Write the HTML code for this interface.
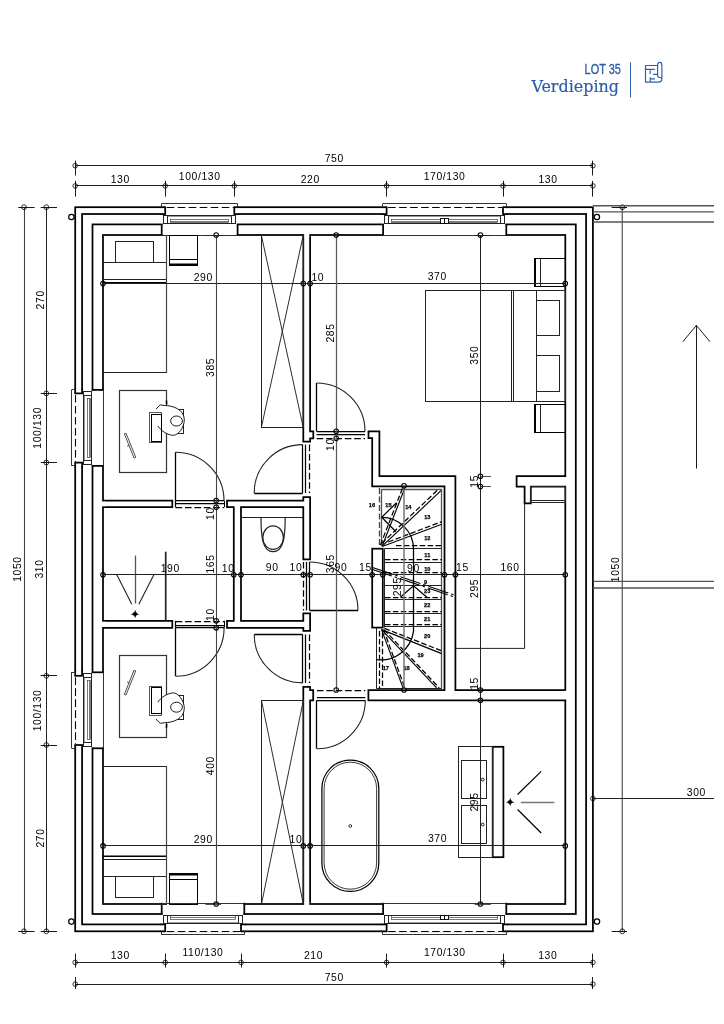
<!DOCTYPE html>
<html lang="nl"><head><meta charset="utf-8"><title>LOT 35 - Verdieping</title>
<style>html,body{margin:0;padding:0;background:#fff}body{width:724px;height:1024px;overflow:hidden}svg{display:block;will-change:transform}</style>
</head><body>
<svg width="724" height="1024" viewBox="0 0 724 1024" font-family="'Liberation Sans',Arial,sans-serif">
<rect x="75.2" y="207.2" width="517.7" height="724.1" fill="none" stroke="#000" stroke-width="1.75"/>
<rect x="82.1" y="214" width="504" height="710.4" fill="none" stroke="#000" stroke-width="1.75"/>
<rect x="92.5" y="224.4" width="483.3" height="689.6" fill="none" stroke="#000" stroke-width="1.75"/>
<rect x="103" y="235" width="462.3" height="669" fill="none" stroke="#000" stroke-width="1.75"/>
<rect x="162.45" y="206" width="74.4" height="30.2" fill="#fff"/>
<rect x="160.9" y="206" width="1.6" height="17.65" fill="#fff"/>
<rect x="236.8" y="206" width="1.6" height="17.65" fill="#fff"/>
<line x1="160.2" y1="207.2" x2="165.2" y2="207.2" stroke="#000" stroke-width="1.75"/>
<line x1="160.2" y1="214.1" x2="165.2" y2="214.1" stroke="#000" stroke-width="1.75"/>
<line x1="165.2" y1="206.45" x2="165.2" y2="214.85" stroke="#000" stroke-width="1.75"/>
<line x1="234.3" y1="207.2" x2="239.1" y2="207.2" stroke="#000" stroke-width="1.75"/>
<line x1="234.3" y1="214.1" x2="239.1" y2="214.1" stroke="#000" stroke-width="1.75"/>
<line x1="234.3" y1="206.45" x2="234.3" y2="214.85" stroke="#000" stroke-width="1.75"/>
<line x1="161.7" y1="223.65" x2="161.7" y2="235.75" stroke="#000" stroke-width="1.75"/>
<line x1="237.6" y1="223.65" x2="237.6" y2="235.75" stroke="#000" stroke-width="1.75"/>
<line x1="161.7" y1="235.5" x2="237.6" y2="235.5" stroke="#333" stroke-width="1"/>
<line x1="161.5" y1="203.5" x2="237.6" y2="203.5" stroke="#333" stroke-width="1"/>
<line x1="161.5" y1="203.7" x2="161.5" y2="207.4" stroke="#333" stroke-width="1"/>
<line x1="237.5" y1="203.7" x2="237.5" y2="207.4" stroke="#333" stroke-width="1"/>
<line x1="166.7" y1="207.5" x2="233.8" y2="207.5" stroke="#000" stroke-width="1.1" stroke-dasharray="7.6 3.4"/>
<rect x="163.5" y="215.5" width="72" height="8" fill="none" stroke="#222" stroke-width="1"/>
<rect x="163.5" y="215.5" width="4" height="8" fill="none" stroke="#222" stroke-width="1"/>
<rect x="231.5" y="215.5" width="4" height="8" fill="none" stroke="#222" stroke-width="1"/>
<line x1="167" y1="216.5" x2="231.9" y2="216.5" stroke="#555" stroke-width="0.6"/>
<rect x="170.5" y="219.5" width="58" height="3" fill="none" stroke="#222" stroke-width="0.6"/>
<line x1="170.2" y1="221.5" x2="228.8" y2="221.5" stroke="#222" stroke-width="0.6"/>
<rect x="383.85" y="206" width="121.7" height="30.2" fill="#fff"/>
<rect x="382.3" y="206" width="1.6" height="17.65" fill="#fff"/>
<rect x="505.5" y="206" width="1.6" height="17.65" fill="#fff"/>
<line x1="381.6" y1="207.2" x2="386.6" y2="207.2" stroke="#000" stroke-width="1.75"/>
<line x1="381.6" y1="214.1" x2="386.6" y2="214.1" stroke="#000" stroke-width="1.75"/>
<line x1="386.6" y1="206.45" x2="386.6" y2="214.85" stroke="#000" stroke-width="1.75"/>
<line x1="503" y1="207.2" x2="507.8" y2="207.2" stroke="#000" stroke-width="1.75"/>
<line x1="503" y1="214.1" x2="507.8" y2="214.1" stroke="#000" stroke-width="1.75"/>
<line x1="503" y1="206.45" x2="503" y2="214.85" stroke="#000" stroke-width="1.75"/>
<line x1="383.1" y1="223.65" x2="383.1" y2="235.75" stroke="#000" stroke-width="1.75"/>
<line x1="506.3" y1="223.65" x2="506.3" y2="235.75" stroke="#000" stroke-width="1.75"/>
<line x1="383.1" y1="235.5" x2="506.3" y2="235.5" stroke="#333" stroke-width="1"/>
<line x1="382.9" y1="203.5" x2="506.3" y2="203.5" stroke="#333" stroke-width="1"/>
<line x1="382.5" y1="203.7" x2="382.5" y2="207.4" stroke="#333" stroke-width="1"/>
<line x1="506.5" y1="203.7" x2="506.5" y2="207.4" stroke="#333" stroke-width="1"/>
<line x1="388.1" y1="207.5" x2="502.5" y2="207.5" stroke="#000" stroke-width="1.1" stroke-dasharray="7.6 3.4"/>
<rect x="384.5" y="215.5" width="120" height="8" fill="none" stroke="#222" stroke-width="1"/>
<rect x="384.5" y="215.5" width="4" height="8" fill="none" stroke="#222" stroke-width="1"/>
<rect x="500.5" y="215.5" width="4" height="8" fill="none" stroke="#222" stroke-width="1"/>
<line x1="388.4" y1="216.5" x2="500.6" y2="216.5" stroke="#555" stroke-width="0.6"/>
<rect x="391.5" y="219.5" width="106" height="3" fill="none" stroke="#222" stroke-width="0.6"/>
<line x1="391.6" y1="221.5" x2="497.5" y2="221.5" stroke="#222" stroke-width="0.6"/>
<rect x="440.5" y="218.5" width="4" height="5" fill="#fff" stroke="#000" stroke-width="0.9"/>
<rect x="444.5" y="218.5" width="4" height="5" fill="#fff" stroke="#000" stroke-width="0.9"/>
<rect x="162.45" y="902.3" width="81.1" height="30.2" fill="#fff"/>
<rect x="160.9" y="914.85" width="1.6" height="17.65" fill="#fff"/>
<rect x="243.5" y="914.85" width="1.6" height="17.65" fill="#fff"/>
<line x1="160.2" y1="931.3" x2="165.2" y2="931.3" stroke="#000" stroke-width="1.75"/>
<line x1="160.2" y1="924.4" x2="165.2" y2="924.4" stroke="#000" stroke-width="1.75"/>
<line x1="165.2" y1="932.05" x2="165.2" y2="923.65" stroke="#000" stroke-width="1.75"/>
<line x1="241" y1="931.3" x2="245.8" y2="931.3" stroke="#000" stroke-width="1.75"/>
<line x1="241" y1="924.4" x2="245.8" y2="924.4" stroke="#000" stroke-width="1.75"/>
<line x1="241" y1="932.05" x2="241" y2="923.65" stroke="#000" stroke-width="1.75"/>
<line x1="161.7" y1="914.85" x2="161.7" y2="902.75" stroke="#000" stroke-width="1.75"/>
<line x1="244.3" y1="914.85" x2="244.3" y2="902.75" stroke="#000" stroke-width="1.75"/>
<line x1="161.7" y1="903.5" x2="244.3" y2="903.5" stroke="#333" stroke-width="1"/>
<line x1="161.5" y1="934.5" x2="244.3" y2="934.5" stroke="#333" stroke-width="1"/>
<line x1="161.5" y1="934.8" x2="161.5" y2="931.1" stroke="#333" stroke-width="1"/>
<line x1="244.5" y1="934.8" x2="244.5" y2="931.1" stroke="#333" stroke-width="1"/>
<line x1="166.7" y1="931.5" x2="240.5" y2="931.5" stroke="#000" stroke-width="1.1" stroke-dasharray="7.6 3.4"/>
<rect x="163.5" y="915.5" width="79" height="8" fill="none" stroke="#222" stroke-width="1"/>
<rect x="163.5" y="915.5" width="4" height="8" fill="none" stroke="#222" stroke-width="1"/>
<rect x="238.5" y="915.5" width="4" height="8" fill="none" stroke="#222" stroke-width="1"/>
<line x1="167" y1="922.5" x2="238.6" y2="922.5" stroke="#555" stroke-width="0.6"/>
<rect x="170.5" y="915.5" width="65" height="4" fill="none" stroke="#222" stroke-width="0.6"/>
<line x1="170.2" y1="917.5" x2="235.5" y2="917.5" stroke="#222" stroke-width="0.6"/>
<rect x="383.85" y="902.3" width="121.7" height="30.2" fill="#fff"/>
<rect x="382.3" y="914.85" width="1.6" height="17.65" fill="#fff"/>
<rect x="505.5" y="914.85" width="1.6" height="17.65" fill="#fff"/>
<line x1="381.6" y1="931.3" x2="386.6" y2="931.3" stroke="#000" stroke-width="1.75"/>
<line x1="381.6" y1="924.4" x2="386.6" y2="924.4" stroke="#000" stroke-width="1.75"/>
<line x1="386.6" y1="932.05" x2="386.6" y2="923.65" stroke="#000" stroke-width="1.75"/>
<line x1="503" y1="931.3" x2="507.8" y2="931.3" stroke="#000" stroke-width="1.75"/>
<line x1="503" y1="924.4" x2="507.8" y2="924.4" stroke="#000" stroke-width="1.75"/>
<line x1="503" y1="932.05" x2="503" y2="923.65" stroke="#000" stroke-width="1.75"/>
<line x1="383.1" y1="914.85" x2="383.1" y2="902.75" stroke="#000" stroke-width="1.75"/>
<line x1="506.3" y1="914.85" x2="506.3" y2="902.75" stroke="#000" stroke-width="1.75"/>
<line x1="383.1" y1="903.5" x2="506.3" y2="903.5" stroke="#333" stroke-width="1"/>
<line x1="382.9" y1="934.5" x2="506.3" y2="934.5" stroke="#333" stroke-width="1"/>
<line x1="382.5" y1="934.8" x2="382.5" y2="931.1" stroke="#333" stroke-width="1"/>
<line x1="506.5" y1="934.8" x2="506.5" y2="931.1" stroke="#333" stroke-width="1"/>
<line x1="388.1" y1="931.5" x2="502.5" y2="931.5" stroke="#000" stroke-width="1.1" stroke-dasharray="7.6 3.4"/>
<rect x="384.5" y="915.5" width="120" height="8" fill="none" stroke="#222" stroke-width="1"/>
<rect x="384.5" y="915.5" width="4" height="8" fill="none" stroke="#222" stroke-width="1"/>
<rect x="500.5" y="915.5" width="4" height="8" fill="none" stroke="#222" stroke-width="1"/>
<line x1="388.4" y1="922.5" x2="500.6" y2="922.5" stroke="#555" stroke-width="0.6"/>
<rect x="391.5" y="915.5" width="106" height="4" fill="none" stroke="#222" stroke-width="0.6"/>
<line x1="391.6" y1="917.5" x2="497.5" y2="917.5" stroke="#222" stroke-width="0.6"/>
<rect x="440.5" y="915.5" width="4" height="4" fill="#fff" stroke="#000" stroke-width="0.9"/>
<rect x="444.5" y="915.5" width="4" height="4" fill="#fff" stroke="#000" stroke-width="0.9"/>
<rect x="74" y="390.65" width="30.2" height="74.5" fill="#fff"/>
<rect x="74" y="389.1" width="17.65" height="1.6" fill="#fff"/>
<rect x="74" y="465.1" width="17.65" height="1.6" fill="#fff"/>
<line x1="75.2" y1="388.4" x2="75.2" y2="393.4" stroke="#000" stroke-width="1.75"/>
<line x1="82.1" y1="388.4" x2="82.1" y2="393.4" stroke="#000" stroke-width="1.75"/>
<line x1="74.45" y1="393.4" x2="82.85" y2="393.4" stroke="#000" stroke-width="1.75"/>
<line x1="75.2" y1="462.6" x2="75.2" y2="467.4" stroke="#000" stroke-width="1.75"/>
<line x1="82.1" y1="462.6" x2="82.1" y2="467.4" stroke="#000" stroke-width="1.75"/>
<line x1="74.45" y1="462.6" x2="82.85" y2="462.6" stroke="#000" stroke-width="1.75"/>
<line x1="91.65" y1="389.9" x2="103.75" y2="389.9" stroke="#000" stroke-width="1.75"/>
<line x1="91.65" y1="465.9" x2="103.75" y2="465.9" stroke="#000" stroke-width="1.75"/>
<line x1="103.5" y1="389.9" x2="103.5" y2="465.9" stroke="#333" stroke-width="1"/>
<line x1="71.5" y1="389.7" x2="71.5" y2="465.9" stroke="#333" stroke-width="1"/>
<line x1="71.7" y1="389.5" x2="75.4" y2="389.5" stroke="#333" stroke-width="1"/>
<line x1="71.7" y1="465.5" x2="75.4" y2="465.5" stroke="#333" stroke-width="1"/>
<line x1="75.5" y1="394.9" x2="75.5" y2="462.1" stroke="#000" stroke-width="1.1" stroke-dasharray="7.6 3.4"/>
<rect x="83.5" y="391.5" width="8" height="73" fill="none" stroke="#222" stroke-width="1"/>
<rect x="83.5" y="391.5" width="8" height="4" fill="none" stroke="#222" stroke-width="1"/>
<rect x="83.5" y="460.5" width="8" height="4" fill="none" stroke="#222" stroke-width="1"/>
<line x1="84.5" y1="395.2" x2="84.5" y2="460.2" stroke="#555" stroke-width="0.6"/>
<rect x="87.5" y="398.5" width="3" height="59" fill="none" stroke="#222" stroke-width="0.6"/>
<line x1="89.5" y1="398.4" x2="89.5" y2="457.1" stroke="#222" stroke-width="0.6"/>
<rect x="74" y="673.05" width="30.2" height="74.5" fill="#fff"/>
<rect x="74" y="671.5" width="17.65" height="1.6" fill="#fff"/>
<rect x="74" y="747.5" width="17.65" height="1.6" fill="#fff"/>
<line x1="75.2" y1="670.8" x2="75.2" y2="675.8" stroke="#000" stroke-width="1.75"/>
<line x1="82.1" y1="670.8" x2="82.1" y2="675.8" stroke="#000" stroke-width="1.75"/>
<line x1="74.45" y1="675.8" x2="82.85" y2="675.8" stroke="#000" stroke-width="1.75"/>
<line x1="75.2" y1="745" x2="75.2" y2="749.8" stroke="#000" stroke-width="1.75"/>
<line x1="82.1" y1="745" x2="82.1" y2="749.8" stroke="#000" stroke-width="1.75"/>
<line x1="74.45" y1="745" x2="82.85" y2="745" stroke="#000" stroke-width="1.75"/>
<line x1="91.65" y1="672.3" x2="103.75" y2="672.3" stroke="#000" stroke-width="1.75"/>
<line x1="91.65" y1="748.3" x2="103.75" y2="748.3" stroke="#000" stroke-width="1.75"/>
<line x1="103.5" y1="672.3" x2="103.5" y2="748.3" stroke="#333" stroke-width="1"/>
<line x1="71.5" y1="672.1" x2="71.5" y2="748.3" stroke="#333" stroke-width="1"/>
<line x1="71.7" y1="672.5" x2="75.4" y2="672.5" stroke="#333" stroke-width="1"/>
<line x1="71.7" y1="748.5" x2="75.4" y2="748.5" stroke="#333" stroke-width="1"/>
<line x1="75.5" y1="677.3" x2="75.5" y2="744.5" stroke="#000" stroke-width="1.1" stroke-dasharray="7.6 3.4"/>
<rect x="83.5" y="673.5" width="8" height="73" fill="none" stroke="#222" stroke-width="1"/>
<rect x="83.5" y="673.5" width="8" height="4" fill="none" stroke="#222" stroke-width="1"/>
<rect x="83.5" y="742.5" width="8" height="4" fill="none" stroke="#222" stroke-width="1"/>
<line x1="84.5" y1="677.6" x2="84.5" y2="742.6" stroke="#555" stroke-width="0.6"/>
<rect x="87.5" y="680.5" width="3" height="59" fill="none" stroke="#222" stroke-width="0.6"/>
<line x1="89.5" y1="680.8" x2="89.5" y2="739.5" stroke="#222" stroke-width="0.6"/>
<path d="M103 500.6 L172.3 500.6 L172.3 507.2 L103 507.2" fill="none" stroke="#000" stroke-width="1.75" stroke-linejoin="miter"/>
<path d="M103 620.8 L172.3 620.8 L172.3 627.8 L103 627.8" fill="none" stroke="#000" stroke-width="1.75" stroke-linejoin="miter"/>
<path d="M227 500.6 L303.3 500.6 L303.3 497 L310.1 497 L310.1 559.4 L303.3 559.4 L303.3 507.2 L241 507.2 L241 620.8 L303.3 620.8 L303.3 613.4 L310.1 613.4 L310.1 630.8 L303.3 630.8 L303.3 627.8 L227 627.8 L227 620.8 L233.8 620.8 L233.8 507.2 L227 507.2 Z" fill="none" stroke="#000" stroke-width="1.75" stroke-linejoin="miter"/>
<path d="M303.3 235 L303.3 441.5 L310.1 441.5 L310.1 438.3 L313.3 438.3 L313.3 431.3 L310.1 431.3 L310.1 235" fill="none" stroke="#000" stroke-width="1.75" stroke-linejoin="miter"/>
<path d="M303.3 904 L303.3 686.8 L310.1 686.8 L310.1 690 L313.2 690 L313.2 700.3 L310.1 700.3 L310.1 904" fill="none" stroke="#000" stroke-width="1.75" stroke-linejoin="miter"/>
<path d="M565.3 690 L455.4 690 L455.4 476.2 L379.4 476.2 L379.4 431.3 L368.5 431.3 L368.5 438.1 L372.2 438.1 L372.2 486.4 L444.5 486.4 L444.5 690 L368.4 690 L368.4 700.3 L565.3 700.3" fill="none" stroke="#000" stroke-width="1.75" stroke-linejoin="miter"/>
<rect x="372.2" y="548.7" width="10.6" height="78.9" fill="none" stroke="#000" stroke-width="1.75"/>
<path d="M565.3 476.2 L516.6 476.2 L516.6 486.5 L524.6 486.5 L524.6 503.4 L530.8 503.4 L530.8 486.5 L565.3 486.5" fill="none" stroke="#000" stroke-width="1.75" stroke-linejoin="miter"/>
<rect x="492.7" y="746.8" width="10.7" height="110.4" fill="none" stroke="#000" stroke-width="1.75"/>
<rect x="101" y="501.48" width="4" height="4.85" fill="#fff"/>
<rect x="101" y="621.67" width="4" height="5.25" fill="#fff"/>
<rect x="564" y="477.07" width="3" height="8.55" fill="#fff"/>
<rect x="564" y="690.88" width="3" height="8.55" fill="#fff"/>
<rect x="304.18" y="233" width="5.05" height="4" fill="#fff"/>
<rect x="304.18" y="902" width="5.05" height="4" fill="#fff"/>
<rect x="103.5" y="235.5" width="63" height="137" fill="none" stroke="#222" stroke-width="1"/>
<rect x="115.5" y="241.5" width="38" height="21" fill="none" stroke="#222" stroke-width="1"/>
<line x1="103" y1="262.5" x2="166.5" y2="262.5" stroke="#222" stroke-width="1"/>
<line x1="103" y1="279.5" x2="166.5" y2="279.5" stroke="#222" stroke-width="1"/>
<line x1="103" y1="282.7" x2="166.5" y2="282.7" stroke="#000" stroke-width="1.5"/>
<line x1="166.5" y1="235" x2="166.5" y2="372.8" stroke="#444" stroke-width="1.2"/>
<rect x="169.5" y="235.5" width="28" height="30" fill="none" stroke="#000" stroke-width="1"/>
<line x1="169.5" y1="259.5" x2="197.6" y2="259.5" stroke="#000" stroke-width="1"/>
<line x1="169.5" y1="264.4" x2="197.6" y2="264.4" stroke="#000" stroke-width="1.8"/>
<rect x="119.5" y="390.5" width="47" height="82" fill="none" stroke="#333" stroke-width="1.2"/>
<path d="M124.36 433.83 L134.06 458.03 L135.74 457.37 L126.04 433.17 Z" fill="none" stroke="#000" stroke-width="0.7" stroke-linejoin="miter"/>
<line x1="126.9" y1="446.3" x2="129.3" y2="445.3" stroke="#222" stroke-width="0.7"/>
<rect x="175.5" y="409.5" width="8" height="24" fill="none" stroke="#222" stroke-width="1"/>
<path d="M156 409.2 L158.3 406.6 L160.3 404.9 L164.7 405.5 C172 405.5 184.3 409 184.3 419.8 C184.3 428 178 435.3 173.4 435.3 C168 435.3 161 431 157.9 426" fill="#fff" stroke="#000" stroke-width="0.9"/>
<rect x="149.5" y="412.5" width="12" height="30" fill="none" stroke="#555" stroke-width="1"/>
<rect x="151.5" y="414.5" width="10" height="27" fill="none" stroke="#000" stroke-width="1"/>
<line x1="166.4" y1="400.5" x2="166.7" y2="404.2" stroke="#000" stroke-width="1.6"/>
<ellipse cx="176.5" cy="421" rx="5.9" ry="5" fill="none" stroke="#000" stroke-width="0.9"/>
<rect x="103.5" y="766.5" width="63" height="138" fill="none" stroke="#222" stroke-width="1"/>
<rect x="115.5" y="876.5" width="38" height="21" fill="none" stroke="#222" stroke-width="1"/>
<line x1="103" y1="876.5" x2="166.5" y2="876.5" stroke="#222" stroke-width="1"/>
<line x1="103" y1="859.5" x2="166.5" y2="859.5" stroke="#222" stroke-width="1"/>
<line x1="103" y1="856.3" x2="166.5" y2="856.3" stroke="#000" stroke-width="1.5"/>
<line x1="166.5" y1="904" x2="166.5" y2="766.2" stroke="#444" stroke-width="1.2"/>
<rect x="169.5" y="873.5" width="28" height="31" fill="none" stroke="#000" stroke-width="1"/>
<line x1="169.5" y1="879.5" x2="197.6" y2="879.5" stroke="#000" stroke-width="1"/>
<line x1="169.5" y1="874.6" x2="197.6" y2="874.6" stroke="#000" stroke-width="1.8"/>
<rect x="119.5" y="655.5" width="47" height="82" fill="none" stroke="#333" stroke-width="1.2"/>
<path d="M124.36 694.37 L134.06 670.17 L135.74 670.83 L126.04 695.03 Z" fill="none" stroke="#000" stroke-width="0.7" stroke-linejoin="miter"/>
<line x1="126.9" y1="681.9" x2="129.3" y2="682.9" stroke="#222" stroke-width="0.7"/>
<rect x="175.5" y="695.5" width="8" height="24" fill="none" stroke="#222" stroke-width="1"/>
<path d="M156 719 L158.3 721.6 L160.3 723.3 L164.7 722.7 C172 722.7 184.3 719.2 184.3 708.4 C184.3 700.2 178 692.9 173.4 692.9 C168 692.9 161 697.2 157.9 702.2" fill="#fff" stroke="#000" stroke-width="0.9"/>
<rect x="149.5" y="686.5" width="12" height="29" fill="none" stroke="#555" stroke-width="1"/>
<rect x="151.5" y="687.5" width="10" height="26" fill="none" stroke="#000" stroke-width="1"/>
<line x1="166.4" y1="727.7" x2="166.7" y2="724" stroke="#000" stroke-width="1.6"/>
<ellipse cx="176.5" cy="707.2" rx="5.9" ry="5" fill="none" stroke="#000" stroke-width="0.9"/>
<rect x="261.5" y="235.5" width="42" height="192" fill="none" stroke="#222" stroke-width="1"/>
<line x1="261.3" y1="235" x2="303.3" y2="427.8" stroke="#222" stroke-width="0.95"/>
<line x1="303.3" y1="235" x2="261.3" y2="427.8" stroke="#222" stroke-width="0.95"/>
<rect x="261.5" y="700.5" width="42" height="204" fill="none" stroke="#222" stroke-width="1"/>
<line x1="261.5" y1="700.6" x2="303.3" y2="904" stroke="#222" stroke-width="0.95"/>
<line x1="303.3" y1="700.6" x2="261.5" y2="904" stroke="#222" stroke-width="0.95"/>
<line x1="165.7" y1="551.7" x2="165.7" y2="620.8" stroke="#222" stroke-width="1.7"/>
<line x1="135.5" y1="555.6" x2="135.5" y2="603.5" stroke="#555" stroke-width="1.3"/>
<line x1="116.7" y1="574.6" x2="131.8" y2="604.2" stroke="#222" stroke-width="1.1"/>
<line x1="154" y1="574.6" x2="138.8" y2="604.2" stroke="#222" stroke-width="1.1"/>
<path d="M135 611.4 L137.6 614 L135 616.6 L132.4 614 Z" fill="#000" stroke="#000" stroke-width="0.6" stroke-linejoin="miter"/>
<line x1="131.2" y1="614.5" x2="138.8" y2="614.5" stroke="#000" stroke-width="0.6"/>
<line x1="135.5" y1="610.2" x2="135.5" y2="617.8" stroke="#000" stroke-width="0.6"/>
<line x1="241" y1="517.5" x2="303.3" y2="517.5" stroke="#222" stroke-width="1"/>
<path d="M261 517 C261 535 262 551.6 273.1 551.6 C284.2 551.6 285.2 535 285.2 517" fill="none" stroke="#222" stroke-width="1.2"/>
<ellipse cx="273.1" cy="537.6" rx="10.3" ry="11.8" fill="none" stroke="#222" stroke-width="1.2"/>
<rect x="425.5" y="290.5" width="140" height="111" fill="none" stroke="#222" stroke-width="1"/>
<line x1="511.5" y1="290.2" x2="511.5" y2="401.4" stroke="#222" stroke-width="1"/>
<line x1="513.5" y1="290.2" x2="513.5" y2="401.4" stroke="#222" stroke-width="1"/>
<line x1="536.5" y1="290.2" x2="536.5" y2="401.4" stroke="#222" stroke-width="1"/>
<rect x="536.5" y="300.5" width="23" height="35" fill="none" stroke="#222" stroke-width="1"/>
<rect x="536.5" y="355.5" width="23" height="36" fill="none" stroke="#222" stroke-width="1"/>
<rect x="534.5" y="258.5" width="31" height="28" fill="none" stroke="#000" stroke-width="1"/>
<line x1="535.2" y1="258.6" x2="535.2" y2="286.4" stroke="#000" stroke-width="1.6"/>
<line x1="540.5" y1="258.6" x2="540.5" y2="286.4" stroke="#222" stroke-width="1"/>
<rect x="534.5" y="404.5" width="31" height="28" fill="none" stroke="#000" stroke-width="1"/>
<line x1="535.2" y1="404.1" x2="535.2" y2="432" stroke="#000" stroke-width="1.6"/>
<line x1="540.5" y1="404.1" x2="540.5" y2="432" stroke="#222" stroke-width="1"/>
<rect x="530.5" y="486.5" width="35" height="16" fill="none" stroke="#222" stroke-width="1"/>
<line x1="530.8" y1="500.5" x2="565.3" y2="500.5" stroke="#222" stroke-width="1"/>
<path d="M524.6 503.4 L524.6 648.4 L455.4 648.4" fill="none" stroke="#222" stroke-width="1" stroke-linejoin="miter"/>
<path d="M321.9 788.45 A28.45 28.45 0 0 1 378.8 788.45 L378.8 862.95 A28.45 28.45 0 0 1 321.9 862.95 Z" fill="none" stroke="#000" stroke-width="1.25"/>
<path d="M324.1 788.45 A26.25 26.25 0 0 1 376.6 788.45 L376.6 862.95 A26.25 26.25 0 0 1 324.1 862.95 Z" fill="none" stroke="#222" stroke-width="0.9"/>
<circle cx="350.3" cy="826" r="1.4" fill="none" stroke="#000" stroke-width="0.8"/>
<rect x="458.5" y="746.5" width="34" height="111" fill="none" stroke="#222" stroke-width="1"/>
<rect x="461.5" y="760.5" width="25" height="38" fill="none" stroke="#222" stroke-width="1"/>
<rect x="461.5" y="805.5" width="25" height="38" fill="none" stroke="#222" stroke-width="1"/>
<circle cx="482.7" cy="779.6" r="1.4" fill="none" stroke="#000" stroke-width="0.9"/>
<circle cx="482.7" cy="824.5" r="1.4" fill="none" stroke="#000" stroke-width="0.9"/>
<path d="M510.1 799.4 L512.7 802 L510.1 804.6 L507.5 802 Z" fill="#000" stroke="#000" stroke-width="0.6" stroke-linejoin="miter"/>
<line x1="506.3" y1="802.5" x2="513.9" y2="802.5" stroke="#000" stroke-width="0.6"/>
<line x1="510.5" y1="798.2" x2="510.5" y2="805.8" stroke="#000" stroke-width="0.6"/>
<line x1="520.8" y1="802.5" x2="554.4" y2="802.5" stroke="#777" stroke-width="1.3"/>
<line x1="517.6" y1="794.5" x2="541.2" y2="771.4" stroke="#000" stroke-width="1.2"/>
<line x1="517.6" y1="809.5" x2="541.2" y2="833" stroke="#000" stroke-width="1.2"/>
<line x1="175.5" y1="452.2" x2="175.5" y2="500.6" stroke="#000" stroke-width="1.3"/>
<path d="M175.6 452.2 A48.4 48.4 0 0 1 224 500.6" fill="none" stroke="#222" stroke-width="1.1"/>
<line x1="175.6" y1="500.5" x2="224" y2="500.5" stroke="#000" stroke-width="1.25"/>
<line x1="175.6" y1="503.5" x2="224" y2="503.5" stroke="#000" stroke-width="1.25"/>
<line x1="175.6" y1="507.5" x2="224" y2="507.5" stroke="#000" stroke-width="1.25" stroke-dasharray="6.6 2.8"/>
<line x1="175.5" y1="500.6" x2="175.5" y2="507.2" stroke="#000" stroke-width="1.25"/>
<line x1="224.5" y1="500.6" x2="224.5" y2="507.2" stroke="#000" stroke-width="1"/>
<line x1="175.5" y1="627.8" x2="175.5" y2="676.2" stroke="#000" stroke-width="1.3"/>
<path d="M175.7 676.2 A48.4 48.4 0 0 0 224.1 627.8" fill="none" stroke="#222" stroke-width="1.1"/>
<line x1="175.7" y1="627.5" x2="224.1" y2="627.5" stroke="#000" stroke-width="1.25"/>
<line x1="175.7" y1="625.5" x2="224.1" y2="625.5" stroke="#000" stroke-width="1.25"/>
<line x1="175.7" y1="621.5" x2="224.1" y2="621.5" stroke="#000" stroke-width="1.25" stroke-dasharray="6.6 2.8"/>
<line x1="175.5" y1="620.8" x2="175.5" y2="627.8" stroke="#000" stroke-width="1.25"/>
<line x1="224.5" y1="620.8" x2="224.5" y2="627.8" stroke="#000" stroke-width="1"/>
<line x1="254.2" y1="493.5" x2="302.6" y2="493.5" stroke="#000" stroke-width="1.3"/>
<path d="M254.2 493 A48.4 48.4 0 0 1 302.6 444.6" fill="none" stroke="#222" stroke-width="1.1"/>
<line x1="302.5" y1="444.6" x2="302.5" y2="493" stroke="#000" stroke-width="1.25"/>
<line x1="305.5" y1="444.6" x2="305.5" y2="493" stroke="#000" stroke-width="1.25"/>
<line x1="309.5" y1="444.6" x2="309.5" y2="493" stroke="#000" stroke-width="1.25" stroke-dasharray="6.6 2.8"/>
<line x1="309.6" y1="610.5" x2="358" y2="610.5" stroke="#000" stroke-width="1.3"/>
<path d="M358 610.4 A48.4 48.4 0 0 0 309.6 562" fill="none" stroke="#222" stroke-width="1.1"/>
<line x1="309.5" y1="562" x2="309.5" y2="610.4" stroke="#000" stroke-width="1.25"/>
<line x1="306.5" y1="562" x2="306.5" y2="610.4" stroke="#000" stroke-width="1.25"/>
<line x1="303.5" y1="562" x2="303.5" y2="610.4" stroke="#000" stroke-width="1.25" stroke-dasharray="6.6 2.8"/>
<line x1="254.2" y1="634.5" x2="302.6" y2="634.5" stroke="#000" stroke-width="1.3"/>
<path d="M254.2 634.5 A48.4 48.4 0 0 0 302.6 682.9" fill="none" stroke="#222" stroke-width="1.1"/>
<line x1="302.5" y1="634.5" x2="302.5" y2="682.9" stroke="#000" stroke-width="1.25"/>
<line x1="305.5" y1="634.5" x2="305.5" y2="682.9" stroke="#000" stroke-width="1.25"/>
<line x1="309.5" y1="634.5" x2="309.5" y2="682.9" stroke="#000" stroke-width="1.25" stroke-dasharray="6.6 2.8"/>
<line x1="316.5" y1="383" x2="316.5" y2="431.4" stroke="#000" stroke-width="1.3"/>
<path d="M316.6 383 A48.4 48.4 0 0 1 365 431.4" fill="none" stroke="#222" stroke-width="1.1"/>
<line x1="316.6" y1="431.5" x2="365" y2="431.5" stroke="#000" stroke-width="1.25"/>
<line x1="316.6" y1="434.5" x2="365" y2="434.5" stroke="#000" stroke-width="1.25"/>
<line x1="316.6" y1="438.5" x2="365" y2="438.5" stroke="#000" stroke-width="1.25" stroke-dasharray="6.6 2.8"/>
<line x1="316.5" y1="700.3" x2="316.5" y2="748.7" stroke="#000" stroke-width="1.3"/>
<path d="M316.9 748.7 A48.4 48.4 0 0 0 365.3 700.3" fill="none" stroke="#222" stroke-width="1.1"/>
<line x1="316.9" y1="700.5" x2="365.3" y2="700.5" stroke="#000" stroke-width="1.25"/>
<line x1="316.9" y1="697.5" x2="365.3" y2="697.5" stroke="#000" stroke-width="1.25"/>
<line x1="316.9" y1="690.5" x2="365.3" y2="690.5" stroke="#000" stroke-width="1.25" stroke-dasharray="6.6 2.8"/>
<line x1="381.7" y1="489.5" x2="441.7" y2="489.5" stroke="#555" stroke-width="1.3"/>
<line x1="441.5" y1="489" x2="441.5" y2="688.4" stroke="#555" stroke-width="1.3"/>
<line x1="381.5" y1="489" x2="381.5" y2="546" stroke="#555" stroke-width="1.3"/>
<line x1="379.5" y1="488" x2="379.5" y2="546" stroke="#444" stroke-width="1.3" stroke-dasharray="6 2.5"/>
<line x1="384.5" y1="548.7" x2="384.5" y2="627.6" stroke="#222" stroke-width="1"/>
<line x1="384.4" y1="548.5" x2="441.7" y2="548.5" stroke="#222" stroke-width="1"/>
<line x1="384.4" y1="562.5" x2="441.7" y2="562.5" stroke="#222" stroke-width="1"/>
<line x1="384.4" y1="574.5" x2="441.7" y2="574.5" stroke="#222" stroke-width="1"/>
<line x1="384.4" y1="585.5" x2="441.7" y2="585.5" stroke="#222" stroke-width="1"/>
<line x1="384.4" y1="599.5" x2="441.7" y2="599.5" stroke="#222" stroke-width="1"/>
<line x1="384.4" y1="613.5" x2="441.7" y2="613.5" stroke="#222" stroke-width="1"/>
<line x1="384.4" y1="626.5" x2="441.7" y2="626.5" stroke="#222" stroke-width="1"/>
<line x1="385" y1="559.5" x2="441.7" y2="559.5" stroke="#000" stroke-width="1.25" stroke-dasharray="5.5 2.4"/>
<line x1="385" y1="572.5" x2="441.7" y2="572.5" stroke="#000" stroke-width="1.25" stroke-dasharray="5.5 2.4"/>
<line x1="385" y1="597.5" x2="441.7" y2="597.5" stroke="#000" stroke-width="1.25" stroke-dasharray="5.5 2.4"/>
<line x1="385" y1="611.5" x2="441.7" y2="611.5" stroke="#000" stroke-width="1.25" stroke-dasharray="5.5 2.4"/>
<line x1="385" y1="624.5" x2="441.7" y2="624.5" stroke="#000" stroke-width="1.25" stroke-dasharray="5.5 2.4"/>
<line x1="396" y1="545.5" x2="441.7" y2="545.5" stroke="#000" stroke-width="1.25" stroke-dasharray="5.5 2.4"/>
<line x1="382.2" y1="546.2" x2="404.6" y2="488.5" stroke="#000" stroke-width="1.15"/>
<line x1="380.4" y1="545" x2="402.4" y2="488.5" stroke="#000" stroke-width="1.25" stroke-dasharray="5.5 2.4"/>
<line x1="382.2" y1="546.2" x2="441" y2="490.6" stroke="#000" stroke-width="1.15"/>
<line x1="381.7" y1="543.4" x2="438" y2="489.6" stroke="#000" stroke-width="1.25" stroke-dasharray="5.5 2.4"/>
<line x1="382.2" y1="546.5" x2="441.7" y2="524.2" stroke="#000" stroke-width="1.15"/>
<line x1="388.2" y1="542" x2="441.7" y2="521.6" stroke="#000" stroke-width="1.25" stroke-dasharray="5.5 2.4"/>
<line x1="381.6" y1="629.6" x2="441.7" y2="653.6" stroke="#000" stroke-width="1.15"/>
<line x1="384.6" y1="628.4" x2="441.7" y2="650.8" stroke="#000" stroke-width="1.25" stroke-dasharray="5.5 2.4"/>
<line x1="381.6" y1="629.6" x2="436.6" y2="687.8" stroke="#000" stroke-width="1.15"/>
<line x1="384.1" y1="629.6" x2="439.2" y2="687.8" stroke="#000" stroke-width="1.25" stroke-dasharray="5.5 2.4"/>
<line x1="381.6" y1="629.6" x2="403.2" y2="688.4" stroke="#000" stroke-width="1.15"/>
<line x1="383.6" y1="629.6" x2="405" y2="688.4" stroke="#000" stroke-width="1.25" stroke-dasharray="5.5 2.4"/>
<line x1="376.5" y1="627.6" x2="376.5" y2="688.4" stroke="#222" stroke-width="1"/>
<line x1="379.5" y1="631" x2="379.5" y2="688.4" stroke="#000" stroke-width="1.25" stroke-dasharray="5.5 2.4"/>
<line x1="382.5" y1="633" x2="382.5" y2="688.4" stroke="#000" stroke-width="1.25" stroke-dasharray="5.5 2.4"/>
<line x1="376.4" y1="688.5" x2="441.7" y2="688.5" stroke="#222" stroke-width="1"/>
<line x1="371.9" y1="569.2" x2="454.4" y2="597" stroke="#000" stroke-width="1.1" stroke-dasharray="21 3 2.5 3"/>
<line x1="372.5" y1="567.4" x2="455" y2="595.2" stroke="#000" stroke-width="1.1" stroke-dasharray="21 3 2.5 3"/>
<path d="M381.7 517.3 A31.8 31.8 0 0 1 413.5 549.1 L413.5 631.4 A33 33 0 0 1 376.4 659.6" fill="none" stroke="#000" stroke-width="1.25"/>
<path d="M396.5 502.7 L381.7 517.3 L395.7 531.5" fill="none" stroke="#000" stroke-width="1.25" stroke-linejoin="miter"/>
<path d="M400.3 597.2 L413.5 585.8 L426.9 597.2" fill="none" stroke="#000" stroke-width="1.25" stroke-linejoin="miter"/>
<text x="371.9" y="507" font-size="5.6" text-anchor="middle" fill="#000" font-weight="bold" stroke="#000" stroke-width="0.25">16</text>
<text x="388.4" y="507" font-size="5.6" text-anchor="middle" fill="#000" font-weight="bold" stroke="#000" stroke-width="0.25">15</text>
<text x="408.3" y="509" font-size="5.6" text-anchor="middle" fill="#000" font-weight="bold" stroke="#000" stroke-width="0.25">14</text>
<text x="427.3" y="518.8" font-size="5.6" text-anchor="middle" fill="#000" font-weight="bold" stroke="#000" stroke-width="0.25">13</text>
<text x="427.3" y="540.2" font-size="5.6" text-anchor="middle" fill="#000" font-weight="bold" stroke="#000" stroke-width="0.25">12</text>
<text x="427.3" y="556.8" font-size="5.6" text-anchor="middle" fill="#000" font-weight="bold" stroke="#000" stroke-width="0.25">11</text>
<text x="427.3" y="570.8" font-size="5.6" text-anchor="middle" fill="#000" font-weight="bold" stroke="#000" stroke-width="0.25">10</text>
<text x="425.6" y="584.2" font-size="5.6" text-anchor="middle" fill="#000" font-weight="bold" stroke="#000" stroke-width="0.25">9</text>
<text x="427.2" y="593.4" font-size="5.6" text-anchor="middle" fill="#000" font-weight="bold" stroke="#000" stroke-width="0.25">23</text>
<text x="427.2" y="607.2" font-size="5.6" text-anchor="middle" fill="#000" font-weight="bold" stroke="#000" stroke-width="0.25">22</text>
<text x="427.2" y="620.9" font-size="5.6" text-anchor="middle" fill="#000" font-weight="bold" stroke="#000" stroke-width="0.25">21</text>
<text x="427.2" y="637.8" font-size="5.6" text-anchor="middle" fill="#000" font-weight="bold" stroke="#000" stroke-width="0.25">20</text>
<text x="420.5" y="656.8" font-size="5.6" text-anchor="middle" fill="#000" font-weight="bold" stroke="#000" stroke-width="0.25">19</text>
<text x="385.8" y="670" font-size="5.6" text-anchor="middle" fill="#000" font-weight="bold" stroke="#000" stroke-width="0.25">17</text>
<text x="406.6" y="670" font-size="5.6" text-anchor="middle" fill="#000" font-weight="bold" stroke="#000" stroke-width="0.25">18</text>
<line x1="103" y1="283.5" x2="565.3" y2="283.5" stroke="#222" stroke-width="1"/>
<circle cx="103" cy="283.6" r="2.3" fill="none" stroke="#000" stroke-width="1.05"/>
<circle cx="303.3" cy="283.6" r="2.3" fill="none" stroke="#000" stroke-width="1.05"/>
<circle cx="310.1" cy="283.6" r="2.3" fill="none" stroke="#000" stroke-width="1.05"/>
<circle cx="565.3" cy="283.6" r="2.3" fill="none" stroke="#000" stroke-width="1.05"/>
<line x1="103" y1="574.5" x2="565.3" y2="574.5" stroke="#222" stroke-width="1"/>
<circle cx="103" cy="574.7" r="2.3" fill="none" stroke="#000" stroke-width="1.05"/>
<circle cx="233.8" cy="574.7" r="2.3" fill="none" stroke="#000" stroke-width="1.05"/>
<circle cx="241" cy="574.7" r="2.3" fill="none" stroke="#000" stroke-width="1.05"/>
<circle cx="303.3" cy="574.7" r="2.3" fill="none" stroke="#000" stroke-width="1.05"/>
<circle cx="310.1" cy="574.7" r="2.3" fill="none" stroke="#000" stroke-width="1.05"/>
<circle cx="372.2" cy="574.7" r="2.3" fill="none" stroke="#000" stroke-width="1.05"/>
<circle cx="382.8" cy="574.7" r="2.3" fill="none" stroke="#000" stroke-width="1.05"/>
<circle cx="444.5" cy="574.7" r="2.3" fill="none" stroke="#000" stroke-width="1.05"/>
<circle cx="455.4" cy="574.7" r="2.3" fill="none" stroke="#000" stroke-width="1.05"/>
<circle cx="565.3" cy="574.7" r="2.3" fill="none" stroke="#000" stroke-width="1.05"/>
<line x1="103" y1="845.5" x2="565.3" y2="845.5" stroke="#222" stroke-width="1"/>
<circle cx="103" cy="845.9" r="2.3" fill="none" stroke="#000" stroke-width="1.05"/>
<circle cx="303.3" cy="845.9" r="2.3" fill="none" stroke="#000" stroke-width="1.05"/>
<circle cx="310.1" cy="845.9" r="2.3" fill="none" stroke="#000" stroke-width="1.05"/>
<circle cx="565.3" cy="845.9" r="2.3" fill="none" stroke="#000" stroke-width="1.05"/>
<line x1="216.5" y1="235" x2="216.5" y2="904" stroke="#444" stroke-width="1.1"/>
<circle cx="216.2" cy="235" r="2.3" fill="none" stroke="#000" stroke-width="1.05"/>
<circle cx="216.2" cy="500.6" r="2.3" fill="none" stroke="#000" stroke-width="1.05"/>
<circle cx="216.2" cy="507.2" r="2.3" fill="none" stroke="#000" stroke-width="1.05"/>
<circle cx="216.2" cy="620.8" r="2.3" fill="none" stroke="#000" stroke-width="1.05"/>
<circle cx="216.2" cy="627.8" r="2.3" fill="none" stroke="#000" stroke-width="1.05"/>
<circle cx="216.2" cy="904" r="2.3" fill="none" stroke="#000" stroke-width="1.05"/>
<line x1="336.5" y1="235" x2="336.5" y2="690" stroke="#5a5a5a" stroke-width="1.25"/>
<circle cx="336.2" cy="235" r="2.3" fill="none" stroke="#000" stroke-width="1.05"/>
<circle cx="336.2" cy="431.3" r="2.3" fill="none" stroke="#000" stroke-width="1.05"/>
<circle cx="336.2" cy="438.3" r="2.3" fill="none" stroke="#000" stroke-width="1.05"/>
<circle cx="336.2" cy="690" r="2.3" fill="none" stroke="#000" stroke-width="1.05"/>
<line x1="480.5" y1="235" x2="480.5" y2="904" stroke="#222" stroke-width="1"/>
<circle cx="480.4" cy="235" r="2.3" fill="none" stroke="#000" stroke-width="1.05"/>
<circle cx="480.4" cy="476.2" r="2.3" fill="none" stroke="#000" stroke-width="1.05"/>
<circle cx="480.4" cy="486.5" r="2.3" fill="none" stroke="#000" stroke-width="1.05"/>
<circle cx="480.4" cy="690" r="2.3" fill="none" stroke="#000" stroke-width="1.05"/>
<circle cx="480.4" cy="700.3" r="2.3" fill="none" stroke="#000" stroke-width="1.05"/>
<circle cx="480.4" cy="904" r="2.3" fill="none" stroke="#000" stroke-width="1.05"/>
<line x1="404" y1="486.4" x2="404" y2="690" stroke="#777" stroke-width="1.5"/>
<circle cx="404" cy="485.8" r="2.3" fill="none" stroke="#000" stroke-width="1.05"/>
<circle cx="404" cy="690" r="2.3" fill="none" stroke="#000" stroke-width="1.05"/>
<line x1="205.5" y1="235.5" x2="221" y2="235.5" stroke="#222" stroke-width="0.8"/>
<line x1="474.6" y1="235.5" x2="490.8" y2="235.5" stroke="#222" stroke-width="0.8"/>
<line x1="330" y1="235.5" x2="342" y2="235.5" stroke="#222" stroke-width="0.8"/>
<line x1="205.5" y1="904.5" x2="221" y2="904.5" stroke="#222" stroke-width="0.8"/>
<line x1="474.6" y1="904.5" x2="490.8" y2="904.5" stroke="#222" stroke-width="0.8"/>
<line x1="480.4" y1="476.5" x2="491" y2="476.5" stroke="#222" stroke-width="0.8"/>
<line x1="480.4" y1="486.5" x2="491" y2="486.5" stroke="#222" stroke-width="0.8"/>
<text x="203.2" y="280.8" font-size="10.4" text-anchor="middle" fill="#000" letter-spacing="0.6">290</text>
<text x="317.8" y="280.8" font-size="10.4" text-anchor="middle" fill="#000" letter-spacing="0.6">10</text>
<text x="437.3" y="280.4" font-size="10.4" text-anchor="middle" fill="#000" letter-spacing="0.6">370</text>
<text x="170.3" y="571.6" font-size="10.4" text-anchor="middle" fill="#000" letter-spacing="0.6">190</text>
<text x="228.2" y="571.6" font-size="10.4" text-anchor="middle" fill="#000" letter-spacing="0.6">10</text>
<text x="272.2" y="571.4" font-size="10.4" text-anchor="middle" fill="#000" letter-spacing="0.6">90</text>
<text x="295.9" y="571.4" font-size="10.4" text-anchor="middle" fill="#000" letter-spacing="0.6">10</text>
<text x="341" y="571.4" font-size="10.4" text-anchor="middle" fill="#000" letter-spacing="0.6">90</text>
<text x="365.5" y="571.4" font-size="10.4" text-anchor="middle" fill="#000" letter-spacing="0.6">15</text>
<text x="413.5" y="572.2" font-size="10.4" text-anchor="middle" fill="#000" letter-spacing="0.6">90</text>
<text x="462.4" y="571.4" font-size="10.4" text-anchor="middle" fill="#000" letter-spacing="0.6">15</text>
<text x="510" y="571.4" font-size="10.4" text-anchor="middle" fill="#000" letter-spacing="0.6">160</text>
<text x="203.2" y="842.7" font-size="10.4" text-anchor="middle" fill="#000" letter-spacing="0.6">290</text>
<text x="296" y="842.8" font-size="10.4" text-anchor="middle" fill="#000" letter-spacing="0.6">10</text>
<text x="437.5" y="842.3" font-size="10.4" text-anchor="middle" fill="#000" letter-spacing="0.6">370</text>
<text x="213.7" y="367.4" font-size="10.4" text-anchor="middle" fill="#000" letter-spacing="0.6" transform="rotate(-90 213.7 367.4)">385</text>
<text x="213.7" y="513.5" font-size="10.4" text-anchor="middle" fill="#000" letter-spacing="0.6" transform="rotate(-90 213.7 513.5)">10</text>
<text x="213.7" y="564" font-size="10.4" text-anchor="middle" fill="#000" letter-spacing="0.6" transform="rotate(-90 213.7 564)">165</text>
<text x="213.7" y="614.6" font-size="10.4" text-anchor="middle" fill="#000" letter-spacing="0.6" transform="rotate(-90 213.7 614.6)">10</text>
<text x="213.7" y="765.6" font-size="10.4" text-anchor="middle" fill="#000" letter-spacing="0.6" transform="rotate(-90 213.7 765.6)">400</text>
<text x="334.3" y="333" font-size="10.4" text-anchor="middle" fill="#000" letter-spacing="0.6" transform="rotate(-90 334.3 333)">285</text>
<text x="334.3" y="444.5" font-size="10.4" text-anchor="middle" fill="#000" letter-spacing="0.6" transform="rotate(-90 334.3 444.5)">10</text>
<text x="334.3" y="563.6" font-size="10.4" text-anchor="middle" fill="#000" letter-spacing="0.6" transform="rotate(-90 334.3 563.6)">365</text>
<text x="478.2" y="355.1" font-size="10.4" text-anchor="middle" fill="#000" letter-spacing="0.6" transform="rotate(-90 478.2 355.1)">350</text>
<text x="477.8" y="481.3" font-size="10.4" text-anchor="middle" fill="#000" letter-spacing="0.6" transform="rotate(-90 477.8 481.3)">15</text>
<text x="478.3" y="588.4" font-size="10.4" text-anchor="middle" fill="#000" letter-spacing="0.6" transform="rotate(-90 478.3 588.4)">295</text>
<text x="478.3" y="683.4" font-size="10.4" text-anchor="middle" fill="#000" letter-spacing="0.6" transform="rotate(-90 478.3 683.4)">15</text>
<text x="477.9" y="802" font-size="10.4" text-anchor="middle" fill="#000" letter-spacing="0.6" transform="rotate(-90 477.9 802)">295</text>
<text x="401.3" y="586.7" font-size="10.4" text-anchor="middle" fill="#000" letter-spacing="0.6" transform="rotate(-90 401.3 586.7)">295</text>
<line x1="75.2" y1="165.5" x2="592.9" y2="165.5" stroke="#222" stroke-width="1"/>
<line x1="75.2" y1="185.5" x2="592.9" y2="185.5" stroke="#222" stroke-width="1"/>
<circle cx="75.2" cy="165.7" r="2.3" fill="none" stroke="#000" stroke-width="0.8"/>
<line x1="75.5" y1="160.7" x2="75.5" y2="175.5" stroke="#000" stroke-width="0.9"/>
<circle cx="592.9" cy="165.7" r="2.3" fill="none" stroke="#000" stroke-width="0.8"/>
<line x1="592.5" y1="160.7" x2="592.5" y2="175.5" stroke="#000" stroke-width="0.9"/>
<circle cx="75.2" cy="185.9" r="2.3" fill="none" stroke="#000" stroke-width="0.8"/>
<line x1="75.5" y1="180.9" x2="75.5" y2="196.6" stroke="#000" stroke-width="0.9"/>
<circle cx="165.2" cy="185.9" r="2.3" fill="none" stroke="#000" stroke-width="0.8"/>
<line x1="165.5" y1="180.9" x2="165.5" y2="196.6" stroke="#000" stroke-width="0.9"/>
<circle cx="234.3" cy="185.9" r="2.3" fill="none" stroke="#000" stroke-width="0.8"/>
<line x1="234.5" y1="180.9" x2="234.5" y2="196.6" stroke="#000" stroke-width="0.9"/>
<circle cx="386.6" cy="185.9" r="2.3" fill="none" stroke="#000" stroke-width="0.8"/>
<line x1="386.5" y1="180.9" x2="386.5" y2="196.6" stroke="#000" stroke-width="0.9"/>
<circle cx="503" cy="185.9" r="2.3" fill="none" stroke="#000" stroke-width="0.8"/>
<line x1="503.5" y1="180.9" x2="503.5" y2="196.6" stroke="#000" stroke-width="0.9"/>
<circle cx="592.9" cy="185.9" r="2.3" fill="none" stroke="#000" stroke-width="0.8"/>
<line x1="592.5" y1="180.9" x2="592.5" y2="196.6" stroke="#000" stroke-width="0.9"/>
<text x="334.2" y="162" font-size="10.4" text-anchor="middle" fill="#000" letter-spacing="0.6">750</text>
<text x="120.2" y="182.8" font-size="10.4" text-anchor="middle" fill="#000" letter-spacing="0.6">130</text>
<text x="199.7" y="179.6" font-size="10.4" text-anchor="middle" fill="#000" letter-spacing="0.6">100/130</text>
<text x="310.2" y="182.8" font-size="10.4" text-anchor="middle" fill="#000" letter-spacing="0.6">220</text>
<text x="444.6" y="179.6" font-size="10.4" text-anchor="middle" fill="#000" letter-spacing="0.6">170/130</text>
<text x="548" y="182.8" font-size="10.4" text-anchor="middle" fill="#000" letter-spacing="0.6">130</text>
<line x1="75.2" y1="962.5" x2="592.9" y2="962.5" stroke="#222" stroke-width="1"/>
<line x1="75.2" y1="984.5" x2="592.9" y2="984.5" stroke="#222" stroke-width="1"/>
<circle cx="75.2" cy="962.4" r="2.3" fill="none" stroke="#000" stroke-width="0.8"/>
<line x1="75.5" y1="953.6" x2="75.5" y2="967.6" stroke="#000" stroke-width="0.9"/>
<circle cx="165.2" cy="962.4" r="2.3" fill="none" stroke="#000" stroke-width="0.8"/>
<line x1="165.5" y1="953.6" x2="165.5" y2="967.6" stroke="#000" stroke-width="0.9"/>
<circle cx="241" cy="962.4" r="2.3" fill="none" stroke="#000" stroke-width="0.8"/>
<line x1="241.5" y1="953.6" x2="241.5" y2="967.6" stroke="#000" stroke-width="0.9"/>
<circle cx="386.6" cy="962.4" r="2.3" fill="none" stroke="#000" stroke-width="0.8"/>
<line x1="386.5" y1="953.6" x2="386.5" y2="967.6" stroke="#000" stroke-width="0.9"/>
<circle cx="503" cy="962.4" r="2.3" fill="none" stroke="#000" stroke-width="0.8"/>
<line x1="503.5" y1="953.6" x2="503.5" y2="967.6" stroke="#000" stroke-width="0.9"/>
<circle cx="592.9" cy="962.4" r="2.3" fill="none" stroke="#000" stroke-width="0.8"/>
<line x1="592.5" y1="953.6" x2="592.5" y2="967.6" stroke="#000" stroke-width="0.9"/>
<circle cx="75.2" cy="984.1" r="2.3" fill="none" stroke="#000" stroke-width="0.8"/>
<line x1="75.5" y1="977" x2="75.5" y2="989" stroke="#000" stroke-width="0.9"/>
<circle cx="592.9" cy="984.1" r="2.3" fill="none" stroke="#000" stroke-width="0.8"/>
<line x1="592.5" y1="977" x2="592.5" y2="989" stroke="#000" stroke-width="0.9"/>
<text x="120.2" y="958.9" font-size="10.4" text-anchor="middle" fill="#000" letter-spacing="0.6">130</text>
<text x="203" y="956.3" font-size="10.4" text-anchor="middle" fill="#000" letter-spacing="0.6">110/130</text>
<text x="313.5" y="959" font-size="10.4" text-anchor="middle" fill="#000" letter-spacing="0.6">210</text>
<text x="444.8" y="955.8" font-size="10.4" text-anchor="middle" fill="#000" letter-spacing="0.6">170/130</text>
<text x="547.7" y="958.9" font-size="10.4" text-anchor="middle" fill="#000" letter-spacing="0.6">130</text>
<text x="334.2" y="980.7" font-size="10.4" text-anchor="middle" fill="#000" letter-spacing="0.6">750</text>
<line x1="24.5" y1="207.2" x2="24.5" y2="931.3" stroke="#444" stroke-width="1.1"/>
<line x1="46.5" y1="207.2" x2="46.5" y2="931.3" stroke="#222" stroke-width="1"/>
<circle cx="24" cy="207.2" r="2.4" fill="none" stroke="#000" stroke-width="0.8"/>
<line x1="18.2" y1="207.5" x2="34.6" y2="207.5" stroke="#000" stroke-width="0.9"/>
<circle cx="24" cy="931.3" r="2.4" fill="none" stroke="#000" stroke-width="0.8"/>
<line x1="18.2" y1="931.5" x2="34.6" y2="931.5" stroke="#000" stroke-width="0.9"/>
<circle cx="46.3" cy="207.2" r="2.4" fill="none" stroke="#000" stroke-width="0.8"/>
<line x1="40.7" y1="207.5" x2="57" y2="207.5" stroke="#000" stroke-width="0.9"/>
<circle cx="46.3" cy="393.4" r="2.4" fill="none" stroke="#000" stroke-width="0.8"/>
<line x1="40.7" y1="393.5" x2="57" y2="393.5" stroke="#000" stroke-width="0.9"/>
<circle cx="46.3" cy="462.5" r="2.4" fill="none" stroke="#000" stroke-width="0.8"/>
<line x1="40.7" y1="462.5" x2="57" y2="462.5" stroke="#000" stroke-width="0.9"/>
<circle cx="46.3" cy="675.8" r="2.4" fill="none" stroke="#000" stroke-width="0.8"/>
<line x1="40.7" y1="675.5" x2="57" y2="675.5" stroke="#000" stroke-width="0.9"/>
<circle cx="46.3" cy="745" r="2.4" fill="none" stroke="#000" stroke-width="0.8"/>
<line x1="40.7" y1="745.5" x2="57" y2="745.5" stroke="#000" stroke-width="0.9"/>
<circle cx="46.3" cy="931.3" r="2.4" fill="none" stroke="#000" stroke-width="0.8"/>
<line x1="40.7" y1="931.5" x2="57" y2="931.5" stroke="#000" stroke-width="0.9"/>
<text x="44" y="299.8" font-size="10.4" text-anchor="middle" fill="#000" letter-spacing="0.6" transform="rotate(-90 44 299.8)">270</text>
<text x="40.8" y="427.8" font-size="10.4" text-anchor="middle" fill="#000" letter-spacing="0.6" transform="rotate(-90 40.8 427.8)">100/130</text>
<text x="43.4" y="569" font-size="10.4" text-anchor="middle" fill="#000" letter-spacing="0.6" transform="rotate(-90 43.4 569)">310</text>
<text x="40.8" y="710.4" font-size="10.4" text-anchor="middle" fill="#000" letter-spacing="0.6" transform="rotate(-90 40.8 710.4)">100/130</text>
<text x="44" y="838" font-size="10.4" text-anchor="middle" fill="#000" letter-spacing="0.6" transform="rotate(-90 44 838)">270</text>
<text x="20.8" y="569" font-size="10.4" text-anchor="middle" fill="#000" letter-spacing="0.6" transform="rotate(-90 20.8 569)">1050</text>
<line x1="622.3" y1="207.2" x2="622.3" y2="931.3" stroke="#6a6a6a" stroke-width="1.4"/>
<circle cx="622.3" cy="207.2" r="2.4" fill="none" stroke="#000" stroke-width="0.8"/>
<line x1="611.6" y1="207.5" x2="627" y2="207.5" stroke="#000" stroke-width="0.9"/>
<circle cx="622.3" cy="931.3" r="2.4" fill="none" stroke="#000" stroke-width="0.8"/>
<line x1="611.6" y1="931.5" x2="627" y2="931.5" stroke="#000" stroke-width="0.9"/>
<text x="619.3" y="569.4" font-size="10.4" text-anchor="middle" fill="#000" letter-spacing="0.6" transform="rotate(-90 619.3 569.4)">1050</text>
<line x1="592.9" y1="798.5" x2="714" y2="798.5" stroke="#222" stroke-width="1"/>
<circle cx="592.9" cy="798.5" r="2.3" fill="none" stroke="#000" stroke-width="0.8"/>
<text x="696.4" y="795.6" font-size="10.4" text-anchor="middle" fill="#000" letter-spacing="0.6">300</text>
<line x1="592.9" y1="205.8" x2="714" y2="205.8" stroke="#555" stroke-width="1.4"/>
<line x1="592.9" y1="211.9" x2="714" y2="211.9" stroke="#555" stroke-width="1.4"/>
<line x1="592.9" y1="222" x2="714" y2="222" stroke="#555" stroke-width="1.4"/>
<line x1="592.9" y1="581.4" x2="714" y2="581.4" stroke="#555" stroke-width="1.4"/>
<line x1="592.9" y1="588" x2="714" y2="588" stroke="#555" stroke-width="1.4"/>
<circle cx="71.4" cy="217" r="2.7" fill="none" stroke="#000" stroke-width="1.2"/>
<circle cx="596.9" cy="217" r="2.7" fill="none" stroke="#000" stroke-width="1.2"/>
<circle cx="71.4" cy="921.6" r="2.7" fill="none" stroke="#000" stroke-width="1.2"/>
<circle cx="597" cy="921.6" r="2.7" fill="none" stroke="#000" stroke-width="1.2"/>
<line x1="696.5" y1="325.4" x2="696.5" y2="468.5" stroke="#000" stroke-width="0.9"/>
<path d="M682.8 341.7 L696.4 325.4 L710 341.7" fill="none" stroke="#000" stroke-width="0.9" stroke-linejoin="miter"/>
<text x="620.8" y="73.8" font-size="14" text-anchor="end" fill="#2b5fa8" textLength="36.2" lengthAdjust="spacingAndGlyphs" stroke="#2b5fa8" stroke-width="0.35">LOT 35</text>
<text x="619" y="92.1" font-size="16" text-anchor="end" fill="#2b5fa8" font-family="'DejaVu Serif','Liberation Serif',serif" textLength="87.6" lengthAdjust="spacingAndGlyphs" stroke="#2b5fa8" stroke-width="0.2">Verdieping</text>
<line x1="630.5" y1="62.3" x2="630.5" y2="97.5" stroke="#2b5fa8" stroke-width="1"/>
<g fill="none" stroke="#2b5fa8" stroke-width="1.15" stroke-linejoin="round" stroke-linecap="butt">
<path d="M657.6 65.5 H645.5 V82.1 H658.4 C660.6 82.1 661.9 80.8 661.9 78.8 V65.2 C661.9 61.4 657.6 61.4 657.6 65.2 V75.6 C657.6 77 658.4 77.5 659.6 77.5 C660.9 77.5 661.9 78.2 661.9 79.4"/>
<path d="M645.5 69.4 H654.8 M650.2 70.2 V74 M653.2 74.4 H657.6 M650.2 77.2 V82.1 M650.2 78.9 H655"/>
</g>
</svg>
</body></html>
